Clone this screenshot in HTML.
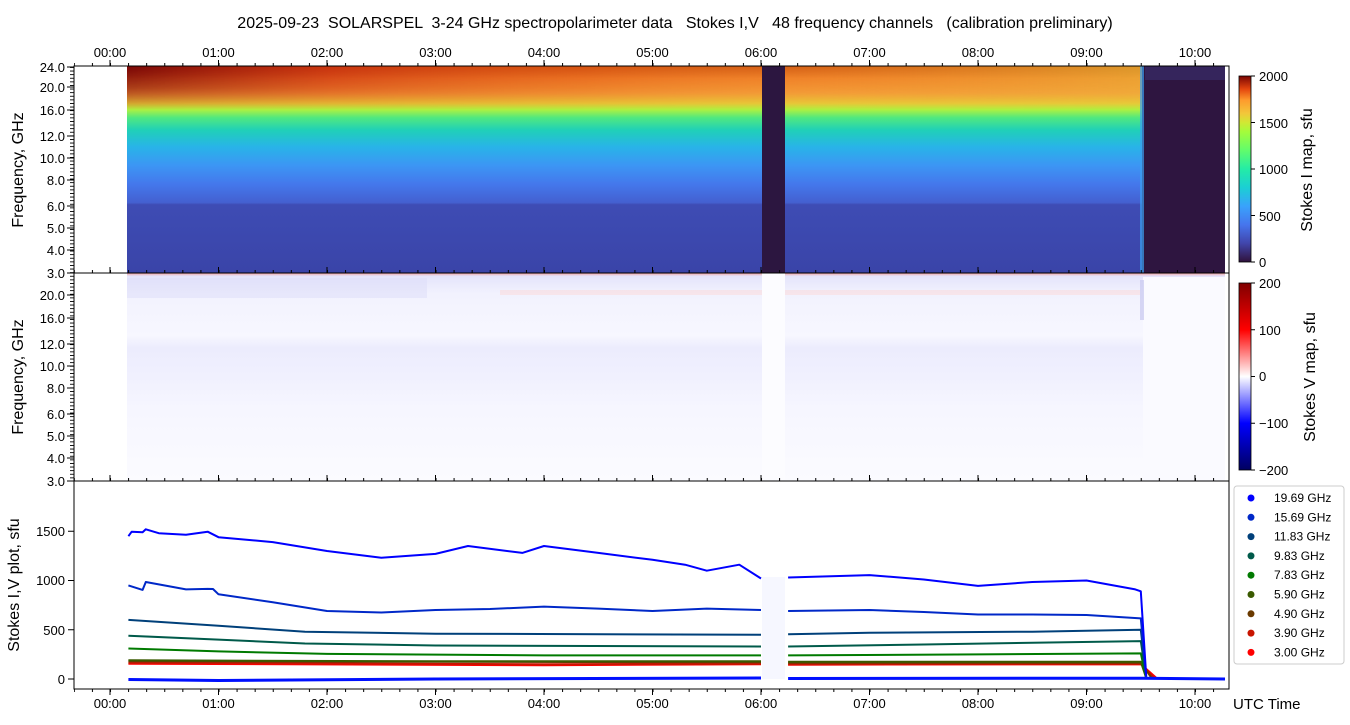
<!DOCTYPE html>
<html><head><meta charset="utf-8"><style>
body{margin:0;background:#fff;}
svg{display:block;font-family:"Liberation Sans","DejaVu Sans",sans-serif;}
</style></head><body>
<svg width="1350" height="725" xmlns="http://www.w3.org/2000/svg">
<defs>
<linearGradient id="gI" x1="0" y1="66" x2="0" y2="273" gradientUnits="userSpaceOnUse">
<stop offset="0" stop-color="#c8440a"/>
<stop offset="0.06" stop-color="#f07a28"/>
<stop offset="0.13" stop-color="#f49a38"/>
<stop offset="0.18" stop-color="#e8c838"/>
<stop offset="0.21" stop-color="#b0f040"/>
<stop offset="0.25" stop-color="#50e880"/>
<stop offset="0.31" stop-color="#20d0b8"/>
<stop offset="0.39" stop-color="#28b4e8"/>
<stop offset="0.48" stop-color="#3c96f4"/>
<stop offset="0.57" stop-color="#4478ec"/>
<stop offset="0.66" stop-color="#4460d0"/>
<stop offset="0.67" stop-color="#3e4cb4"/>
<stop offset="1" stop-color="#3a44a8"/>
</linearGradient>
<linearGradient id="gTop" x1="127" y1="0" x2="1142" y2="0" gradientUnits="userSpaceOnUse">
<stop offset="0" stop-color="#7a0808" stop-opacity="1"/>
<stop offset="0.2" stop-color="#c83010" stop-opacity="0.8"/>
<stop offset="0.45" stop-color="#e06018" stop-opacity="0.5"/>
<stop offset="0.65" stop-color="#f0a030" stop-opacity="0.3"/>
<stop offset="1" stop-color="#e8d040" stop-opacity="0.6"/>
</linearGradient>
<linearGradient id="gTopFade" x1="0" y1="66" x2="0" y2="110" gradientUnits="userSpaceOnUse">
<stop offset="0" stop-color="#fff" stop-opacity="1"/>
<stop offset="0.5" stop-color="#fff" stop-opacity="0.6"/>
<stop offset="1" stop-color="#fff" stop-opacity="0"/>
</linearGradient>
<mask id="mTop"><rect x="0" y="66" width="1350" height="50" fill="url(#gTopFade)"/></mask>
<linearGradient id="gV" x1="0" y1="273" x2="0" y2="481" gradientUnits="userSpaceOnUse">
<stop offset="0" stop-color="#f2a0a0"/>
<stop offset="0.015" stop-color="#e4e4fb"/>
<stop offset="0.1" stop-color="#f2f2fe"/>
<stop offset="0.3" stop-color="#f7f7ff"/>
<stop offset="0.36" stop-color="#ececfd"/>
<stop offset="0.5" stop-color="#f0f0fe"/>
<stop offset="0.65" stop-color="#f6f6ff"/>
<stop offset="1" stop-color="#fbfbff"/>
</linearGradient>
<linearGradient id="cbI" x1="0" y1="262" x2="0" y2="76" gradientUnits="userSpaceOnUse">
<stop offset="0" stop-color="#30123b"/><stop offset="0.1" stop-color="#4145ab"/>
<stop offset="0.2" stop-color="#4675ed"/><stop offset="0.3" stop-color="#39a2fc"/>
<stop offset="0.4" stop-color="#1bcfd4"/><stop offset="0.5" stop-color="#24eca6"/>
<stop offset="0.6" stop-color="#61fc6c"/><stop offset="0.7" stop-color="#a4fc3b"/>
<stop offset="0.75" stop-color="#d1e834"/><stop offset="0.8" stop-color="#f3c63a"/>
<stop offset="0.87" stop-color="#fe9b2d"/><stop offset="0.93" stop-color="#e4460e"/>
<stop offset="1" stop-color="#7a0403"/>
</linearGradient>
<linearGradient id="cbV" x1="0" y1="470" x2="0" y2="283" gradientUnits="userSpaceOnUse">
<stop offset="0" stop-color="#000060"/><stop offset="0.25" stop-color="#0000ff"/>
<stop offset="0.5" stop-color="#ffffff"/><stop offset="0.75" stop-color="#ff0000"/>
<stop offset="1" stop-color="#800000"/>
</linearGradient>
<pattern id="tx" x="110" y="0" width="18.0833" height="10" patternUnits="userSpaceOnUse">
<rect x="0" y="0" width="1" height="10" fill="#000"/>
</pattern>
<pattern id="ty" x="0" y="67" width="10" height="3.6" patternUnits="userSpaceOnUse">
<rect x="0" y="0" width="10" height="0.9" fill="#000"/>
</pattern>
</defs>
<text x="675" y="28" text-anchor="middle" font-size="16" xml:space="preserve">2025-09-23  SOLARSPEL  3-24 GHz spectropolarimeter data   Stokes I,V   48 frequency channels   (calibration preliminary)</text>

<rect x="127" y="66" width="1015" height="207" fill="url(#gI)"/>
<rect x="127" y="66" width="1015" height="50" fill="url(#gTop)" mask="url(#mTop)"/>
<rect x="762" y="66" width="23" height="207" fill="#2c1640"/>
<rect x="1142" y="66" width="83" height="207" fill="#2e1540"/>
<rect x="1145" y="66" width="80" height="14" fill="#3a3070" opacity="0.6"/>
<rect x="1140" y="66" width="4" height="207" fill="#3aa0f0" opacity="0.7"/>

<rect x="127" y="273" width="1098" height="208" fill="url(#gV)"/>
<rect x="127" y="278" width="300" height="20" fill="#dcdcf8" opacity="0.5"/>
<rect x="500" y="290" width="640" height="5" fill="#fbd8d8" opacity="0.5"/>
<rect x="762" y="273" width="23" height="208" fill="#fcfcff"/>
<rect x="1143" y="277" width="82" height="204" fill="#fafaff"/>
<rect x="1140" y="280" width="4" height="40" fill="#c8c8f0" opacity="0.7"/>

<g fill="none" stroke-width="2" stroke-linejoin="round">
<rect x="762" y="577" width="23" height="102" fill="#eef0ff" opacity="0.5" stroke="none"/>
<polyline stroke="#ff0000" points="128.4,663.7 544,665.2 761,664.2"/>
<polyline stroke="#ff0000" points="788.1,664.7 1140.8,664.2 1157,678.5"/>
<polyline stroke="#c81400" points="128.4,662.7 544,664.2 761,663.7"/>
<polyline stroke="#c81400" points="788.1,664.2 1140.8,663.7 1154,678"/>
<polyline stroke="#6a3a00" points="128.4,661.3 435.5,661.8 761,662.3"/>
<polyline stroke="#6a3a00" points="788.1,662.7 1140.8,662.7 1151.6,678"/>
<polyline stroke="#3a5a00" points="128.4,660.3 435.5,661.3 761,661.3"/>
<polyline stroke="#3a5a00" points="788.1,661.8 1140.8,661.8 1146.2,678"/>
<polyline stroke="#007a00" points="128.4,648.5 218.5,651.4 327,653.9 544,655.4 761,655.4"/>
<polyline stroke="#007a00" points="788.1,655.4 978,654.4 1140.8,653.4 1146.2,678"/>
<polyline stroke="#005a4a" points="128.4,635.7 218.5,639.6 305,643.5 435.5,645.5 761,646.5"/>
<polyline stroke="#005a4a" points="788.1,646.5 923.8,644.5 1140.8,641.1 1146.2,677.5"/>
<polyline stroke="#00407a" points="128.4,619.9 218.5,625.8 305,631.7 435.5,633.7 761,634.7"/>
<polyline stroke="#00407a" points="788.1,634.2 869.5,632.7 1032.3,631.7 1140.8,629.8 1146.2,677.5"/>
<polyline stroke="#0028c8" points="128.4,585.4 142.6,589.9 145.8,582 186,589.4 207.7,588.9 213,589 218.5,594.3 272.8,602.2 327,611 381.3,612.5 435.5,610 490,609 544,606.6 598.3,608.6 652.5,611 706.8,608.6 761,610"/>
<polyline stroke="#0028c8" points="788.1,611 869.5,610 923.8,612 978,614.5 1032.3,614.5 1086.5,615 1140.8,618.4 1146.2,677"/>
<polyline stroke="#0000ff" points="128.4,536.2 131.7,531.7 142.6,532.2 145.8,529.3 158.8,533.2 186,534.7 207.7,531.7 218.5,537.2 272.8,542.1 327,551 381.3,557.8 435.5,553.9 468,546 522.3,552.9 544,546 598.3,552.9 652.5,559.8 685.1,564.7 706.8,570.7 739.3,564.7 761,578.5"/>
<polyline stroke="#0000ff" points="788.1,577.5 869.5,575.1 923.8,579.5 978,585.9 1032.3,582 1086.5,580.5 1135.3,589.4 1140.8,591.3 1146.2,676"/>
<polyline stroke="#0010ff" stroke-width="3" points="128.4,679.5 218.5,680.5 435.5,679 761,678"/>
<polyline stroke="#0010ff" stroke-width="3" points="788.1,678.5 1140.8,678.2 1225,679"/>
</g>

<g fill="url(#tx)">
<rect x="74" y="63" width="1155" height="3"/>
<rect x="74" y="270" width="1155" height="3"/>
<rect x="74" y="478" width="1155" height="3"/>
<rect x="74" y="689" width="1155" height="3"/>
</g>
<g stroke="#000">
<path d="M110,66v-6M218.5,66v-6M327,66v-6M435.5,66v-6M544,66v-6M652.5,66v-6M761,66v-6M869.5,66v-6M978,66v-6M1086.5,66v-6M1195,66v-6"/>
<path d="M110,273v-6M218.5,273v-6M327,273v-6M435.5,273v-6M544,273v-6M652.5,273v-6M761,273v-6M869.5,273v-6M978,273v-6M1086.5,273v-6M1195,273v-6"/>
<path d="M110,481v-6M218.5,481v-6M327,481v-6M435.5,481v-6M544,481v-6M652.5,481v-6M761,481v-6M869.5,481v-6M978,481v-6M1086.5,481v-6M1195,481v-6"/>
<path d="M110,689v6M218.5,689v6M327,689v6M435.5,689v6M544,689v6M652.5,689v6M761,689v6M869.5,689v6M978,689v6M1086.5,689v6M1195,689v6"/>
<path d="M74,67h-7M74,87h-7M74,110h-7M74,136h-7M74,158h-7M74,180h-7M74,206h-7M74,228h-7M74,250h-7M74,273h-7"/>
<path d="M74,295h-7M74,318h-7M74,344h-7M74,366h-7M74,388h-7M74,414h-7M74,436h-7M74,458h-7M74,481h-7"/>
<path d="M74,679h-6M74,629.8h-6M74,580.5h-6M74,531.3h-6"/>
</g>
<rect x="70" y="67" width="4" height="414" fill="url(#ty)"/>
<g font-size="13" text-anchor="middle">
<text x="110" y="57">00:00</text><text x="218.5" y="57">01:00</text><text x="327" y="57">02:00</text><text x="435.5" y="57">03:00</text><text x="544" y="57">04:00</text><text x="652.5" y="57">05:00</text><text x="761" y="57">06:00</text><text x="869.5" y="57">07:00</text><text x="978" y="57">08:00</text><text x="1086.5" y="57">09:00</text><text x="1195" y="57">10:00</text>
<text x="110" y="708">00:00</text><text x="218.5" y="708">01:00</text><text x="327" y="708">02:00</text><text x="435.5" y="708">03:00</text><text x="544" y="708">04:00</text><text x="652.5" y="708">05:00</text><text x="761" y="708">06:00</text><text x="869.5" y="708">07:00</text><text x="978" y="708">08:00</text><text x="1086.5" y="708">09:00</text><text x="1195" y="708">10:00</text>
</g>
<g font-size="13" text-anchor="end">
<text x="65" y="72">24.0</text><text x="65" y="92">20.0</text><text x="65" y="115">16.0</text><text x="65" y="141">12.0</text><text x="65" y="163">10.0</text><text x="65" y="185">8.0</text><text x="65" y="211">6.0</text><text x="65" y="233">5.0</text><text x="65" y="255">4.0</text><text x="65" y="278">3.0</text>
<text x="65" y="300">20.0</text><text x="65" y="323">16.0</text><text x="65" y="349">12.0</text><text x="65" y="371">10.0</text><text x="65" y="393">8.0</text><text x="65" y="419">6.0</text><text x="65" y="441">5.0</text><text x="65" y="463">4.0</text><text x="65" y="486">3.0</text>
<text x="65" y="684">0</text><text x="65" y="635">500</text><text x="65" y="585">1000</text><text x="65" y="536">1500</text>
</g>

<rect x="74" y="66" width="1155" height="623" fill="none" stroke="#000" stroke-width="1"/>
<line x1="74" y1="273" x2="1229" y2="273" stroke="#000"/>
<line x1="74" y1="481" x2="1229" y2="481" stroke="#000"/>

<text transform="translate(23,170) rotate(-90)" text-anchor="middle" font-size="16">Frequency, GHz</text>
<text transform="translate(23,377) rotate(-90)" text-anchor="middle" font-size="16">Frequency, GHz</text>
<text transform="translate(19,585) rotate(-90)" text-anchor="middle" font-size="16">Stokes I,V plot, sfu</text>
<text x="1233" y="709" font-size="15">UTC Time</text>

<rect x="1239" y="76" width="12" height="186" fill="url(#cbI)" stroke="#000" stroke-width="0.8"/>
<rect x="1239" y="283" width="12" height="187" fill="url(#cbV)" stroke="#000" stroke-width="0.8"/>
<g font-size="13">
<text x="1259" y="81">2000</text><text x="1259" y="128">1500</text><text x="1259" y="174">1000</text><text x="1259" y="221">500</text><text x="1259" y="267">0</text>
<text x="1259" y="288">200</text><text x="1259" y="335">100</text><text x="1259" y="381">0</text><text x="1259" y="428">−100</text><text x="1259" y="475">−200</text>
</g>
<g stroke="#000"><path d="M1251,76h4M1251,122.5h4M1251,169h4M1251,215.5h4M1251,262h4M1251,283h4M1251,329.8h4M1251,376.5h4M1251,423.3h4M1251,470h4"/></g>
<text transform="translate(1312,170) rotate(-90)" text-anchor="middle" font-size="16">Stokes I map, sfu</text>
<text transform="translate(1315,377) rotate(-90)" text-anchor="middle" font-size="16">Stokes V map, sfu</text>

<rect x="1234" y="486" width="110" height="178" rx="3" fill="#fff" stroke="#ccc"/>
<g font-size="12">
<circle cx="1251" cy="498" r="3.5" fill="#0000ff"/><text x="1274" y="502">19.69 GHz</text>
<circle cx="1251" cy="517.3" r="3.5" fill="#0028c8"/><text x="1274" y="521.3">15.69 GHz</text>
<circle cx="1251" cy="536.6" r="3.5" fill="#00407a"/><text x="1274" y="540.6">11.83 GHz</text>
<circle cx="1251" cy="555.9" r="3.5" fill="#005a4a"/><text x="1274" y="559.9">9.83 GHz</text>
<circle cx="1251" cy="575.2" r="3.5" fill="#007a00"/><text x="1274" y="579.2">7.83 GHz</text>
<circle cx="1251" cy="594.5" r="3.5" fill="#3a5a00"/><text x="1274" y="598.5">5.90 GHz</text>
<circle cx="1251" cy="613.8" r="3.5" fill="#6a3a00"/><text x="1274" y="617.8">4.90 GHz</text>
<circle cx="1251" cy="633.1" r="3.5" fill="#c81400"/><text x="1274" y="637.1">3.90 GHz</text>
<circle cx="1251" cy="652.4" r="3.5" fill="#ff0000"/><text x="1274" y="656.4">3.00 GHz</text>
</g>
</svg>
</body></html>
